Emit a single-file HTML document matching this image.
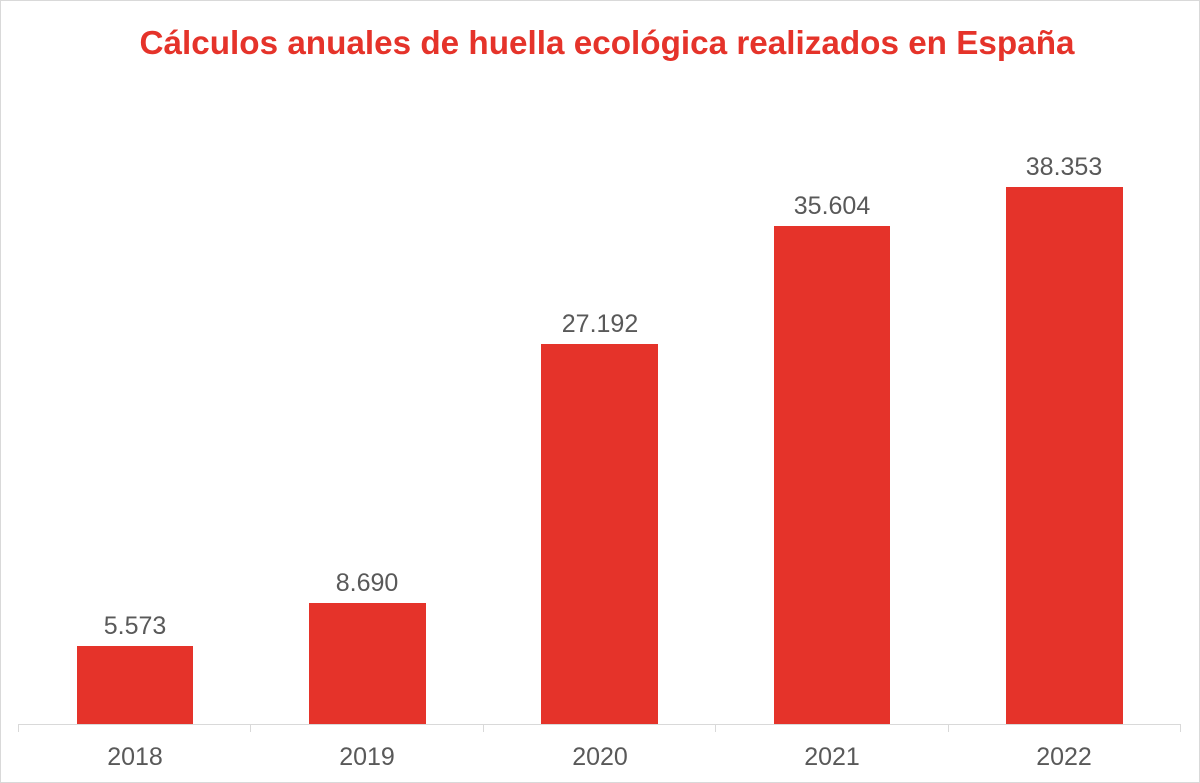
<!DOCTYPE html>
<html><head><meta charset="utf-8"><style>
html,body{margin:0;padding:0;background:#fff}
svg{display:block}
</style></head><body>
<svg width="1200" height="783" xmlns="http://www.w3.org/2000/svg">
<rect x="0.5" y="0.5" width="1199" height="782" fill="#fff" stroke="#d9d9d9"/>
<text x="607" y="54" text-anchor="middle" font-family="Liberation Sans, sans-serif" font-weight="bold" font-size="33" fill="#e5332a" textLength="935" lengthAdjust="spacingAndGlyphs">Cálculos anuales de huella ecológica realizados en España</text>
<g fill="#e5332a">
<rect x="77" y="646" width="116" height="78"/>
<rect x="309" y="603" width="117" height="121"/>
<rect x="541" y="344" width="117" height="380"/>
<rect x="774" y="226" width="116" height="498"/>
<rect x="1006" y="187" width="117" height="537"/>
</g>
<g stroke="#d9d9d9" stroke-width="1">
<line x1="18" y1="724.5" x2="1181" y2="724.5"/>
<line x1="18.5" y1="724" x2="18.5" y2="732"/>
<line x1="250.5" y1="724" x2="250.5" y2="732"/>
<line x1="483.5" y1="724" x2="483.5" y2="732"/>
<line x1="715.5" y1="724" x2="715.5" y2="732"/>
<line x1="948.5" y1="724" x2="948.5" y2="732"/>
<line x1="1180.5" y1="724" x2="1180.5" y2="732"/>
</g>
<g font-family="Liberation Sans, sans-serif" font-size="25" fill="#595959" text-anchor="middle">
<text x="135" y="634">5.573</text>
<text x="367" y="591">8.690</text>
<text x="600" y="332">27.192</text>
<text x="832" y="214">35.604</text>
<text x="1064" y="175">38.353</text>
<text x="135" y="765">2018</text>
<text x="367" y="765">2019</text>
<text x="600" y="765">2020</text>
<text x="832" y="765">2021</text>
<text x="1064" y="765">2022</text>
</g>
</svg>
</body></html>
